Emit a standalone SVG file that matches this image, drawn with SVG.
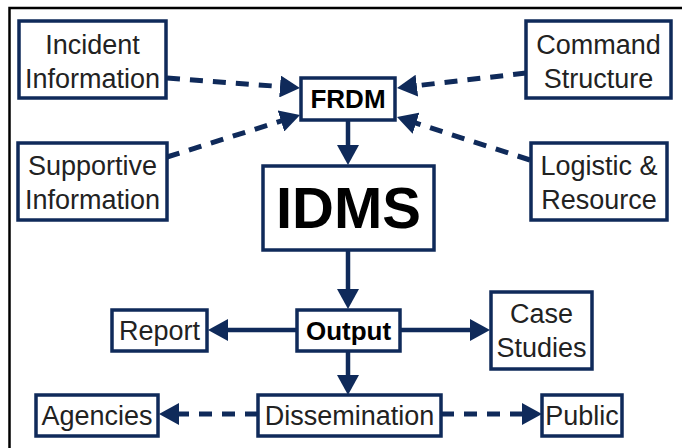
<svg xmlns="http://www.w3.org/2000/svg" width="682" height="448" viewBox="0 0 682 448">
<defs>
<style>
.box{fill:#fff;stroke:#0f2a5a;stroke-width:3.5}
.t{font-family:"Liberation Sans",Arial,sans-serif;font-size:27px;fill:#222;text-anchor:middle}
.b{font-family:"Liberation Sans",Arial,sans-serif;font-weight:bold;fill:#000;text-anchor:middle}
.c{fill:none;stroke:#0f2a5a;stroke-width:4.5}
.d{stroke-dasharray:13 10;stroke-width:5}
</style>
<marker id="ah" viewBox="0 0 20 22" refX="8" refY="11" markerWidth="20" markerHeight="22" markerUnits="userSpaceOnUse" orient="auto">
<path d="M0,0 L20,11 L0,22 z" fill="#0f2a5a"/>
</marker>
</defs>
<rect x="0" y="0" width="682" height="448" fill="#fff"/>
<rect x="9.5" y="8" width="690" height="460" fill="none" stroke="#000" stroke-width="2.5"/>
<g id="connectors">
<line class="c d" x1="167" y1="78" x2="288" y2="87.1" marker-end="url(#ah)"/>
<line class="c d" x1="526" y1="73" x2="408.9" y2="86.6" marker-end="url(#ah)"/>
<line class="c d" x1="167" y1="157" x2="288.6" y2="118.6" marker-end="url(#ah)"/>
<line class="c d" x1="530" y1="160" x2="408.4" y2="120.7" marker-end="url(#ah)"/>
<line class="c" x1="348" y1="121" x2="348" y2="153" marker-end="url(#ah)"/>
<line class="c" x1="348" y1="250" x2="348" y2="297" marker-end="url(#ah)"/>
<line class="c" x1="297" y1="330" x2="220" y2="330" marker-end="url(#ah)"/>
<line class="c" x1="400" y1="330" x2="478" y2="330" marker-end="url(#ah)"/>
<line class="c" x1="348" y1="352" x2="348" y2="383" marker-end="url(#ah)"/>
<line class="c d" x1="258" y1="414" x2="171" y2="414" marker-end="url(#ah)"/>
<line class="c d" x1="441" y1="414" x2="530" y2="414" marker-end="url(#ah)"/>
</g>
<g id="incident"><rect class="box" x="19" y="21" width="147" height="77"/><text class="t" x="92.5" y="54">Incident</text><text class="t" x="92.5" y="88">Information</text></g>
<g id="command"><rect class="box" x="526" y="21" width="145" height="77"/><text class="t" x="598.5" y="54">Command</text><text class="t" x="598.5" y="88">Structure</text></g>
<g id="frdm"><rect class="box" x="301" y="78" width="94" height="42"/><text class="b" x="348" y="108" font-size="26">FRDM</text></g>
<g id="supportive"><rect class="box" x="18" y="143" width="149" height="77"/><text class="t" x="92.5" y="175">Supportive</text><text class="t" x="92.5" y="209">Information</text></g>
<g id="logistic"><rect class="box" x="531" y="143" width="136" height="77"/><text class="t" x="599" y="175">Logistic &amp;</text><text class="t" x="599" y="209">Resource</text></g>
<g id="idms"><rect class="box" x="263" y="166" width="171" height="84"/><text class="b" x="348.5" y="228" font-size="58">IDMS</text></g>
<g id="output"><rect class="box" x="297" y="310" width="103" height="41"/><text class="b" x="348.5" y="340" font-size="26">Output</text></g>
<g id="report"><rect class="box" x="112" y="310" width="95" height="41"/><text class="t" x="159.5" y="340">Report</text></g>
<g id="case"><rect class="box" x="491" y="292" width="101" height="77"/><text class="t" x="541.5" y="323">Case</text><text class="t" x="541.5" y="357">Studies</text></g>
<g id="agencies"><rect class="box" x="36" y="395" width="122" height="41"/><text class="t" x="97" y="425">Agencies</text></g>
<g id="dissemination"><rect class="box" x="258" y="395" width="183" height="41"/><text class="t" x="349.5" y="425">Dissemination</text></g>
<g id="public"><rect class="box" x="542" y="395" width="80" height="41"/><text class="t" x="582" y="425">Public</text></g>
</svg>
